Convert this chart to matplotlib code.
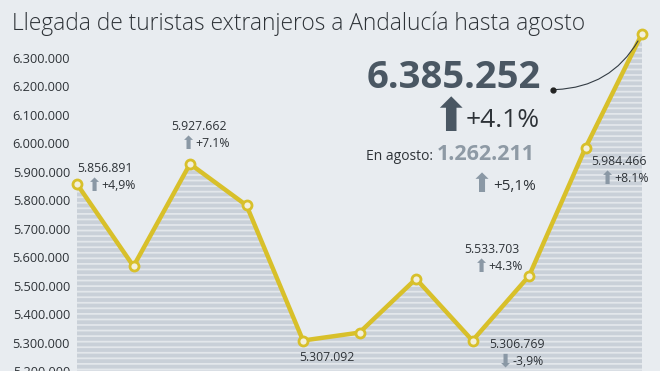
import matplotlib
matplotlib.use("Agg")
import matplotlib.pyplot as plt
from matplotlib.ticker import FuncFormatter
from matplotlib.transforms import offset_copy

# llegadas acumuladas enero-agosto
valores = [5856891, 5568000, 5927662, 5782000, 5307092, 5335000,
           5524000, 5306769, 5533703, 5984466, 6385252]
# puntos con etiqueta
idx_etiq = [0, 2, 4, 7, 8, 9]
txt_valor = ["5.856.891", "5.927.662", "5.307.092", "5.306.769", "5.533.703", "5.984.466"]
txt_var = ["+4,9%", "+7.1%", "", "-3,9%", "+4.3%", "+8.1%"]
yticks = [5200000, 5300000, 5400000, 5500000, 5600000, 5700000,
          5800000, 5900000, 6000000, 6100000, 6200000, 6300000]

titulo = "Llegada de turistas extranjeros a Andalucía hasta agosto"
total = "6.385.252"
total_var = "+4.1%"
agosto = "1.262.211"
agosto_var = "+5,1%"

FONT = "Open Sans"
FONDO = "#e8ecf0"
AMARILLO = "#d8c02a"
OSCURO = "#2e3338"
GRIS_FLECHA = "#8a98a5"
W, H = 660, 371

plt.rcParams["hatch.linewidth"] = 1.3
fig = plt.figure(figsize=(W / 100, H / 100), dpi=100)
fig.patch.set_facecolor(FONDO)
ax = fig.add_axes([0, 0, 1, 1])
ax.set_facecolor(FONDO)

x = list(range(len(valores)))
# escala: 56.5 px por punto, 28.5 px por 100.000
ax.set_xlim(-77 / 56.5, (W - 77) / 56.5)
ymin = 5300000 - (H - 343) / 28.5 * 100000
ymax = 5300000 + 343 / 28.5 * 100000
ax.set_ylim(ymin, ymax)

ax.fill_between(x, valores, ymin, facecolor="#c9d0d8", edgecolor="#e3e7eb",
                hatch="---", linewidth=0, zorder=1)
ax.plot(x, valores, color=AMARILLO, lw=3.2, marker="o", ms=6.5,
        mfc="#f3f0dc", mec=AMARILLO, mew=2, zorder=3)

for s in ax.spines.values():
    s.set_visible(False)
ax.set_xticks([])
ax.set_yticks(yticks)
ax.yaxis.set_major_formatter(FuncFormatter(lambda v, p: f"{int(v):,}".replace(",", ".")))
ax.tick_params(axis="y", length=0, pad=-50.4, labelsize=9.2, labelcolor=OSCURO)
for t in ax.get_yticklabels():
    t.set_fontfamily(FONT)

# etiquetas de los puntos
offs = [(28, 12), (9, 34), (24, -20), (44, -7), (-37, 23), (33, -17)]
for i, tv, tp, (dx, dy) in zip(idx_etiq, txt_valor, txt_var, offs):
    ax.annotate(tv, (i, valores[i]), xytext=(dx * 0.72, dy * 0.72),
                textcoords="offset points", ha="center", va="baseline",
                fontsize=8.8, family=FONT, color=OSCURO, zorder=5)
    if tp:
        ax.annotate(tp, (i, valores[i]), xytext=((dx - 4) * 0.72, (dy - 17) * 0.72),
                    textcoords="offset points", ha="left", va="baseline",
                    fontsize=8.8, family=FONT, color=OSCURO, zorder=5)
        flecha = "\u2b07" if tp.startswith("-") else "\u2b06"
        ax.annotate(flecha, (i, valores[i]), xytext=((dx - 11) * 0.72, (dy - 19) * 0.72),
                    textcoords="offset points", ha="center", va="baseline",
                    fontsize=13, family="DejaVu Sans", color=GRIS_FLECHA, zorder=5)

# total y linea hacia el ultimo punto
ult = len(valores) - 1
tr = offset_copy(ax.transData, fig=fig, x=-89 * 0.72, y=-56 * 0.72, units="points")
ax.plot([ult], [valores[ult]], "o", color="#222222", ms=3.5, transform=tr, zorder=5)
ax.annotate("", xy=(ult, valores[ult]), xytext=(-89 * 0.72, -56 * 0.72),
            textcoords="offset points",
            arrowprops=dict(arrowstyle="-", color="#333c44", lw=0.8,
                            shrinkA=2, shrinkB=6,
                            connectionstyle="arc3,rad=0.3"))

fig.text(12 / W, 1 - 30 / H, titulo, fontsize=16.4, fontweight="light",
         family=FONT, color=OSCURO, va="baseline")
fig.text(454 / W, 1 - 88 / H, total, fontsize=27.5, fontweight="bold",
         family=FONT, color="#4a5763", ha="center", va="baseline")
fig.text(450 / W, 1 - 131 / H, "\u2b06", fontsize=33, family="DejaVu Sans",
         color="#4a5763", ha="center", va="baseline")
fig.text(466 / W, 1 - 127 / H, total_var, fontsize=19, family=FONT,
         color=OSCURO, va="baseline")
fig.text(433 / W, 1 - 160 / H, "En agosto:", fontsize=10, family=FONT,
         color=OSCURO, ha="right", va="baseline")
fig.text(437 / W, 1 - 160 / H, agosto, fontsize=15.5, fontweight="bold",
         family=FONT, color="#8e9aa5", va="baseline")
fig.text(482 / W, 1 - 192 / H, "\u2b06", fontsize=19, family="DejaVu Sans",
         color=GRIS_FLECHA, ha="center", va="baseline")
fig.text(493 / W, 1 - 190 / H, agosto_var, fontsize=11, family=FONT,
         color=OSCURO, va="baseline")

fig.savefig("out.png", dpi=100, facecolor=FONDO)
